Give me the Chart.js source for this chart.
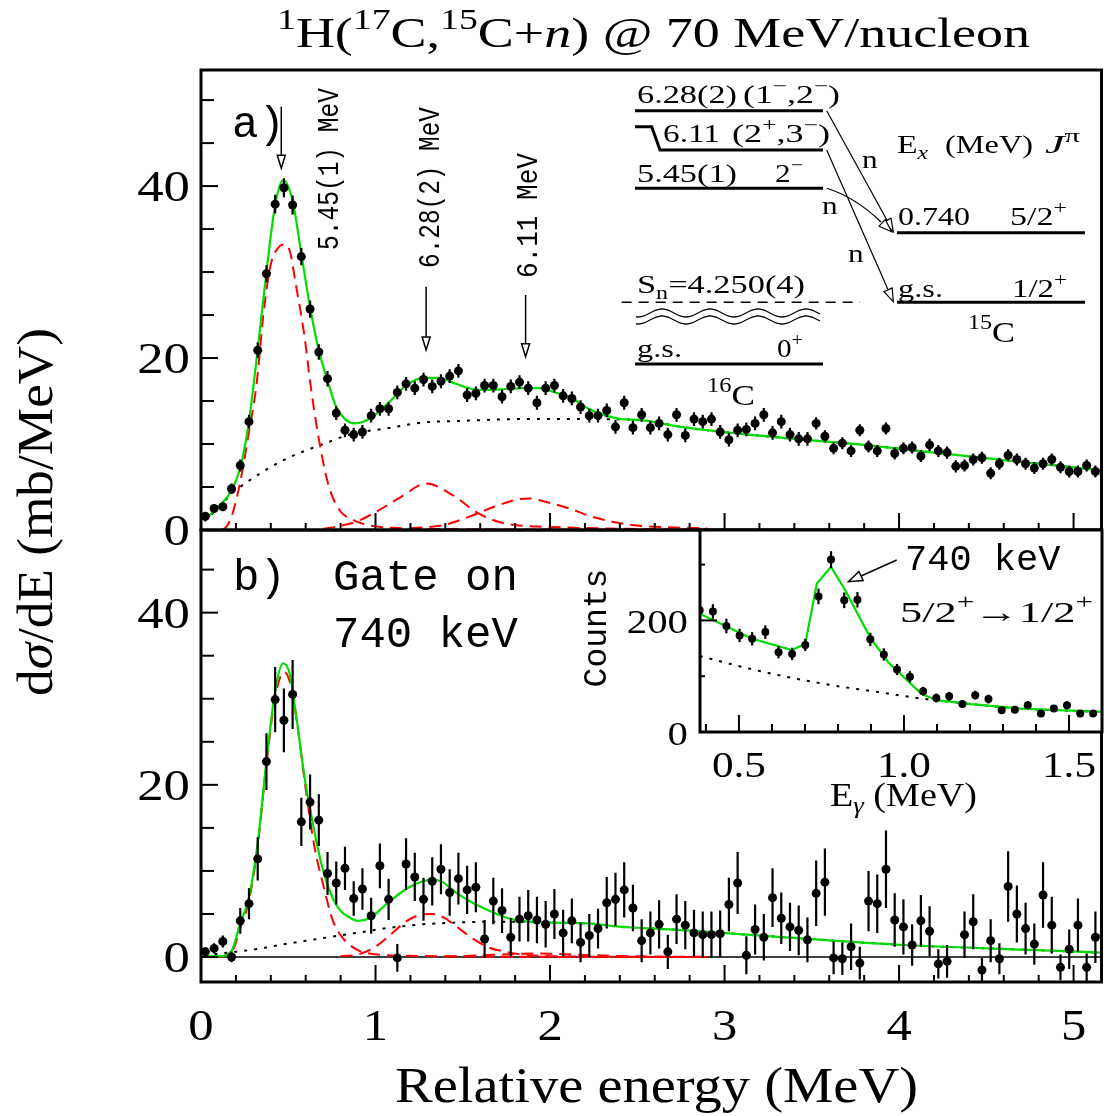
<!DOCTYPE html>
<html>
<head>
<meta charset="utf-8">
<script src="https://cdn.jsdelivr.net/npm/chart.js@4.4.1/dist/chart.umd.min.js"></script>
<style>
  body { margin: 0; background: #fff; }
  canvas { position: absolute; left: 0; top: 0; }
</style>
</head>
<body>
<canvas id="ca" width="1106" height="1116"></canvas>
<canvas id="cb" width="1106" height="1116"></canvas>
<canvas id="ci" width="1106" height="1116"></canvas>
<script>
// ---------- data ----------
// bin centres (MeV), shared by both panels
const binE = [
  0.025,0.075,0.125,0.175,0.225,0.275,0.325,0.375,0.425,0.475,
  0.525,0.575,0.625,0.675,0.725,0.775,0.825,0.875,0.925,0.975,
  1.025,1.075,1.125,1.175,1.225,1.275,1.325,1.375,1.425,1.475,
  1.525,1.575,1.625,1.675,1.725,1.775,1.825,1.875,1.925,1.975,
  2.025,2.075,2.125,2.175,2.225,2.275,2.325,2.375,2.425,2.475,
  2.525,2.575,2.625,2.675,2.725,2.775,2.825,2.875,2.925,2.975,
  3.025,3.075,3.125,3.175,3.225,3.275,3.325,3.375,3.425,3.475,
  3.525,3.575,3.625,3.675,3.725,3.775,3.825,3.875,3.925,3.975,
  4.025,4.075,4.125,4.175,4.225,4.275,4.325,4.375,4.425,4.475,
  4.525,4.575,4.625,4.675,4.725,4.775,4.825,4.875,4.925,4.975,
  5.025,5.075,5.125,5.175
];

// panel a) inclusive spectrum (mb/MeV)
const yA = [
  1.6, 2.5, 2.7, 4.8, 7.5, 12.6, 20.9, 29.8, 37.9, 39.8,
  37.8, 31.8, 25.7, 20.7, 17.6, 13.6, 11.6, 11.1, 11.4, 13.3,
  14.1, 14.1, 16.0, 17.0, 16.5, 17.5, 16.7, 17.3, 17.9, 18.5,
  15.7, 15.9, 16.8, 16.8, 15.5, 16.7, 17.2, 16.5, 14.8, 16.5,
  16.8, 15.6, 15.3, 14.3, 13.3, 13.3, 13.9, 12.0, 14.8, 11.9,
  13.4, 11.9, 12.4, 11.1, 13.4, 11.0, 12.9, 12.6, 12.9, 11.4,
  10.5, 11.6, 11.7, 12.4, 13.4, 11.3, 12.6, 11.1, 10.6, 10.6,
  12.4, 10.9, 9.5, 10.1, 9.2, 11.6, 9.7, 9.2, 11.8, 8.9,
  9.5, 9.6, 8.6, 9.9, 9.2, 9.0, 7.4, 7.5, 8.2, 8.4,
  6.6, 7.7, 8.7, 8.2, 7.7, 7.2, 7.7, 8.2, 7.3, 6.8,
  6.8, 7.5, 6.8, 6.5
];
const errA = [
  0.4,0.5,0.5,0.6,0.7,0.8,0.9,1.0,1.1,1.1,
  1.1,1.0,1.0,0.9,0.9,0.8,0.8,0.8,0.8,0.8,
  0.8,0.8,0.8,0.8,0.8,0.8,0.8,0.8,0.8,0.8,
  0.8,0.8,0.8,0.8,0.8,0.8,0.8,0.8,0.8,0.8,
  0.8,0.8,0.8,0.8,0.8,0.8,0.8,0.8,0.8,0.8,
  0.8,0.8,0.8,0.8,0.8,0.8,0.8,0.8,0.8,0.8,
  0.8,0.8,0.8,0.8,0.8,0.8,0.8,0.8,0.8,0.8,
  0.7,0.7,0.7,0.7,0.7,0.7,0.7,0.7,0.7,0.7,
  0.7,0.7,0.7,0.7,0.7,0.7,0.7,0.7,0.7,0.7,
  0.7,0.7,0.7,0.7,0.7,0.7,0.7,0.7,0.7,0.7,
  0.7,0.7,0.7,0.7
];

// panel a) fit curves
const fitA_E = [0.02,0.1,0.175,0.225,0.275,0.325,0.375,0.425,0.47,0.525,0.575,0.625,0.675,0.725,0.775,0.825,0.88,0.93,0.985,1.08,1.175,1.27,1.366,1.46,1.556,1.65,1.747,1.84,1.937,2.03,2.128,2.22,2.32,2.41,2.51,2.75,3.04,3.4,3.8,4.2,4.57,4.9,5.17];
const fitA_Y = [1.2,2.7,4.6,7.2,12.7,21.0,30.0,37.8,40.7,38.3,32.1,25.9,20.9,17.4,14.3,12.9,12.4,12.6,13.2,14.9,16.8,17.7,17.7,17.0,16.4,16.3,16.4,16.5,16.5,16.0,15.3,14.1,13.3,12.9,12.8,12.0,11.3,10.6,9.9,9.0,8.2,7.5,6.9];
const bgA_E = [0.02,0.1,0.175,0.28,0.47,0.7,0.87,1.06,1.27,1.5,1.84,2.22,2.51,2.75,3.04,3.4,3.8,4.2,4.57,4.9,5.17];
const bgA_Y = [1.0,2.6,4.2,5.8,8.1,10.0,11.2,11.8,12.5,12.7,12.9,12.9,12.8,12.0,11.3,10.6,9.9,9.0,8.2,7.5,6.9];
const bw1A_E = [0.12,0.146,0.175,0.223,0.27,0.318,0.36,0.40,0.442,0.476,0.508,0.543,0.594,0.627,0.67,0.728,0.794,0.87,0.947,1.1,1.5,2.0,2.9];
const bw1A_Y = [0.0,0.4,1.55,5.4,10.8,16.9,25.5,30.9,32.8,33.2,32.5,28.6,22.4,17.0,11.2,5.4,2.3,1.2,0.6,0.25,0.1,0.05,0.02];
const bw2A_E = [0.7,0.794,0.89,1.004,1.147,1.29,1.442,1.575,1.69,1.80,2.07,2.4,2.9];
const bw2A_Y = [0.15,0.46,0.97,2.12,3.86,5.41,4.06,2.12,1.04,0.58,0.31,0.15,0.05];
const bw3A_E = [1.2,1.394,1.537,1.69,1.823,1.88,1.975,2.109,2.24,2.356,2.527,2.68,2.9];
const bw3A_Y = [0.2,0.58,1.55,2.78,3.6,3.67,3.28,2.51,1.55,0.97,0.46,0.31,0.2];

// panel b) gated on 740 keV
const yB = [
  0.6, 1.0, 1.8, 0.0, 4.2, 6.2, 11.4, 22.7, 29.9, 27.5,
  30.5, 15.7, 18.0, 15.9, 9.7, 8.6, 10.3, 6.8, 7.9, 4.8,
  10.6, 6.7, -0.1, 10.8, 9.3, 6.7, 8.8, 10.2, 7.5, 9.1,
  7.8, 8.1, 2.1, 6.5, 5.4, 2.3, 4.4, 4.8, 4.3, 3.8,
  5.0, 2.8, 4.2, 1.7, 2.5, 3.3, 6.3, 6.7, 7.8, 5.7,
  1.9, 2.8, 3.8, 0.6, 4.4, 3.7, 2.8, 2.6, 2.6, 2.7,
  6.1, 8.6, 0.2, 3.2, 2.3, 6.9, 4.5, 3.5, 3.1, 2.0,
  7.4, 8.7, -0.1, -0.2, 1.2, -0.7, 6.5, 6.2, 10.2, 4.3,
  3.5, 1.4, 4.2, 3.0, -0.8, -0.5, null, 2.6, 4.1, -1.5,
  1.9, -0.2, 8.2, 5.0, 3.3, 1.5, 7.2, 3.7, -1.2, 0.9,
  3.7, -1.2, 2.3, 2.6
];
const errB = [
  0.5,0.6,0.7,0.6,1.5,1.8,2.5,3.3,3.8,3.7,
  4.0,2.8,3.2,3.0,2.5,2.5,2.5,2.0,2.4,2.1,
  2.6,2.4,1.6,3.0,2.8,2.5,2.8,2.9,2.7,3.0,
  2.8,2.9,2.2,2.7,2.6,2.2,2.6,3.0,2.7,2.7,
  2.9,2.7,2.6,2.3,2.5,2.3,3.0,3.1,3.2,2.7,
  2.5,2.5,2.8,2.0,2.9,2.8,2.7,2.7,2.7,2.7,
  3.1,3.6,2.2,2.9,2.7,3.4,3.0,2.8,2.9,2.6,
  3.8,3.9,1.9,1.9,2.7,1.9,3.5,3.4,4.5,3.1,
  3.2,2.4,3.0,2.9,1.7,1.9,null,2.7,3.2,1.4,
  2.5,1.8,4.1,3.3,3.0,2.4,3.8,3.3,1.5,2.3,
  3.1,1.6,3.0,3.0
];
const fitB_E = [0.023,0.108,0.175,0.223,0.274,0.324,0.375,0.425,0.47,0.508,0.547,0.594,0.642,0.69,0.737,0.794,0.851,0.899,0.966,1.06,1.175,1.27,1.327,1.385,1.46,1.556,1.65,1.747,1.84,2.03,2.22,2.41,2.5,2.78,3.27,4.03,4.79,5.17];
const fitB_Y = [0.1,0.1,0.7,3.8,6.9,13.1,22.7,30.9,34.1,32.9,27.8,20.8,15.4,10.8,7.7,5.5,4.6,4.2,4.5,6.1,7.9,8.8,9.0,8.7,7.5,6.3,5.4,4.6,4.2,4.0,3.9,3.5,3.4,3.1,2.4,1.4,0.8,0.5];
const bgB_E = [0.02,0.31,0.51,0.70,0.89,1.08,1.27,1.46,1.65,1.84,2.03,2.22,2.41,2.5,2.78,3.27,4.03,4.79,5.17];
const bgB_Y = [0.2,0.9,1.6,2.2,2.8,3.4,3.8,4.0,4.1,4.1,4.0,3.9,3.5,3.4,3.1,2.4,1.4,0.8,0.5];
const bw1B_E = [0.09,0.128,0.185,0.223,0.274,0.324,0.375,0.425,0.476,0.518,0.556,0.604,0.651,0.699,0.756,0.813,0.89,0.966,1.2,1.6,2.9];
const bw1B_Y = [0.0,0.12,0.9,3.2,6.5,12.7,22.4,30.2,33.1,31.3,26.3,18.9,12.7,8.5,4.2,2.2,0.9,0.4,0.15,0.05,0.0];
const bw2B_E = [0.8,0.9,1.0,1.08,1.18,1.27,1.33,1.39,1.46,1.56,1.65,1.75,1.84,2.0,2.5,2.9];
const bw2B_Y = [0.1,0.3,1.2,2.5,4.2,4.95,5.0,4.6,3.6,2.1,1.1,0.6,0.3,0.1,0.02,0.0];
const bw3B_E = [1.4,1.6,1.8,1.9,2.0,2.2,2.4,2.7,2.9];
const bw3B_Y = [0.05,0.2,0.35,0.4,0.38,0.25,0.12,0.04,0.02];

// inset: gamma spectrum
const gamE = [0.381,0.421,0.462,0.502,0.540,0.580,0.620,0.661,0.701,0.741,0.779,0.819,0.859,0.898,0.939,0.979,1.018,1.058,1.098,1.137,1.177,1.216,1.256,1.296,1.336,1.375,1.415,1.454,1.494,1.534,1.573];
const gamN = [218,216,190,173,167,179,143,140,156,243,309,236,237,166,139,112,99,73,61,64,50,66,59,39,40,48,33,42,48,33,33];
const gamErr = [12,13,13,12,12,12,11,11,11,14,15,14,14,12,11,10,10,8,8,8,7,8,8,6,6,7,6,6,7,6,6];
const gamFit_E = [0.381,0.54,0.661,0.701,0.736,0.779,0.822,0.897,0.952,1.052,1.098,1.203,1.354,1.603];
const gamFit_N = [212,167,147,158,266,296,254,170,125,69,57,50,42,36];
const gamBg_E = [0.381,0.55,0.75,0.952,1.05,1.098,1.203,1.354,1.603];
const gamBg_N = [136,111,87,69,60,57,50,42,36];

// tick labels
const xTickLabels = [0, 1, 2, 3, 4, 5];
const yTickLabels = [0, 20, 40];
const insetXLabels = [0.5, 1.0, 1.5];
const insetYLabels = [0, 200];

// peak markers in panel a
const peakE = [0.46, 1.29, 1.86];
const peakText = ['5.45(1) MeV', '6.28(2) MeV', '6.11 MeV'];

// ---------- helpers ----------
const SERIF = '"Liberation Serif", "Times New Roman", serif';
const MONO = '"Liberation Mono", "Courier New", monospace';
const GREEN = '#00dd00';
const RED = '#ff0000';

function pairs(xs, ys) { return xs.map((x, i) => ({ x: x, y: ys[i] })); }

function range(from, to, step, skip) {
  const out = [];
  for (let i = 0; from + i * step <= to + 1e-9; i++) {
    const v = +(from + i * step).toFixed(4);
    if (!skip || !skip.includes(v)) out.push(v);
  }
  return out;
}

// tiny markup: ^{sup} _{sub} ~{italic}
function parse(str) {
  const segs = [];
  const re = /([\^_~])\{([^}]*)\}|([^\^_~]+)/g;
  let m;
  while ((m = re.exec(str))) {
    if (m[3]) { segs.push({ t: m[3] }); continue; }
    let t = m[2], it = m[1] === '~';
    if (t[0] === '~') { it = true; t = t.slice(1); }
    segs.push({ t: t, sup: m[1] === '^', sub: m[1] === '_', it: it });
  }
  return segs;
}

function rich(ctx, str, x, y, o) {
  const size = o.size, fam = o.family || SERIF;
  const parts = parse(str).map(s => {
    const sz = (s.sup || s.sub) ? size * 0.7 : size;
    const font = (s.it ? 'italic ' : '') + sz + 'px ' + fam;
    ctx.font = font;
    return { t: s.t, font: font, w: ctx.measureText(s.t).width,
             dy: s.sup ? -size * 0.42 : s.sub ? size * 0.22 : 0 };
  });
  const total = parts.reduce((a, p) => a + p.w, 0);
  const sx = o.width ? o.width / total : (o.sx || 1);
  ctx.save();
  ctx.translate(x, y);
  if (o.rot) ctx.rotate(o.rot);
  ctx.scale(sx, 1);
  let cx = o.align === 'center' ? -total / 2 : o.align === 'right' ? -total : 0;
  ctx.fillStyle = '#000';
  ctx.textAlign = 'left';
  ctx.textBaseline = 'alphabetic';
  parts.forEach(p => { ctx.font = p.font; ctx.fillText(p.t, cx, p.dy); cx += p.w; });
  ctx.restore();
}

function line(ctx, x1, y1, x2, y2) {
  ctx.beginPath(); ctx.moveTo(x1, y1); ctx.lineTo(x2, y2); ctx.stroke();
}

// open triangular arrow head at (x2,y2), coming from (x1,y1)
function head(ctx, x1, y1, x2, y2, len, half) {
  const a = Math.atan2(y2 - y1, x2 - x1);
  const bx = x2 - len * Math.cos(a), by = y2 - len * Math.sin(a);
  const nx = -Math.sin(a) * half, ny = Math.cos(a) * half;
  ctx.beginPath();
  ctx.moveTo(x2, y2); ctx.lineTo(bx + nx, by + ny); ctx.lineTo(bx - nx, by - ny); ctx.closePath();
  ctx.fillStyle = '#fff'; ctx.fill(); ctx.stroke();
}
function arrow(ctx, x1, y1, x2, y2, len, half) {
  const a = Math.atan2(y2 - y1, x2 - x1);
  line(ctx, x1, y1, x2 - len * Math.cos(a), y2 - len * Math.sin(a));
  head(ctx, x1, y1, x2, y2, len, half);
}

// ---------- plugins ----------
const errorBars = {
  id: 'errorBars',
  afterDatasetsDraw(chart) {
    const { ctx, chartArea: a, scales: { x, y } } = chart;
    ctx.save();
    ctx.beginPath(); ctx.rect(a.left, a.top, a.right - a.left, a.bottom - a.top); ctx.clip();
    ctx.strokeStyle = '#000';
    chart.data.datasets.forEach(ds => {
      if (!ds.errors) return;
      ctx.lineWidth = ds.errWidth || 2.2;
      ds.data.forEach((p, i) => {
        const e = ds.errors[i];
        if (p.y == null || e == null) return;
        const px = x.getPixelForValue(p.x);
        line(ctx, px, y.getPixelForValue(p.y - e), px, y.getPixelForValue(p.y + e));
      });
    });
    ctx.restore();
  }
};

function makeFrame(spec) {
  return {
    id: 'frame',
    beforeDraw(chart) {
      if (!spec.fill) return;
      const { ctx, chartArea: a } = chart;
      ctx.save(); ctx.fillStyle = '#fff';
      ctx.fillRect(a.left, a.top, a.right - a.left, a.bottom - a.top);
      ctx.restore();
    },
    beforeDatasetsDraw(chart) {
      if (spec.zeroLine === undefined) return;
      const { ctx, chartArea: a, scales: { y } } = chart;
      ctx.save(); ctx.strokeStyle = '#000'; ctx.lineWidth = 1.6;
      const py = y.getPixelForValue(spec.zeroLine);
      line(ctx, a.left, py, a.right, py);
      ctx.restore();
    },
    afterDraw(chart) {
      const { ctx, chartArea: a, scales: { x, y } } = chart;
      ctx.save();
      ctx.strokeStyle = '#000';
      ctx.lineWidth = 2;
      spec.xTicks.forEach(t => t.vals.forEach(v => {
        const px = x.getPixelForValue(v);
        line(ctx, px, a.bottom, px, a.bottom - t.len);
      }));
      spec.yTicks.forEach(t => t.vals.forEach(v => {
        const py = y.getPixelForValue(v);
        line(ctx, a.left, py, a.left + t.len, py);
      }));
      ctx.lineWidth = 3;
      ctx.strokeRect(a.left, a.top, a.right - a.left, a.bottom - a.top);
      ctx.restore();
    }
  };
}

function dots(data, errs, r) {
  return { data: data, errors: errs, showLine: false, pointRadius: r, pointHoverRadius: r,
           pointBackgroundColor: '#000', pointBorderWidth: 0 };
}
function curve(data, color, dash, w, smooth) {
  return { data: data, showLine: true, borderColor: color, borderWidth: w, borderDash: dash,
           pointRadius: 0, pointHoverRadius: 0, fill: false,
           cubicInterpolationMode: smooth ? 'monotone' : 'default', tension: 0 };
}

function baseOptions(pad, xmin, xmax, ymin, ymax) {
  return {
    responsive: false, animation: false, devicePixelRatio: 1,
    layout: { padding: pad },
    events: [],
    scales: {
      x: { type: 'linear', min: xmin, max: xmax, display: false },
      y: { type: 'linear', min: ymin, max: ymax, display: false }
    },
    plugins: { legend: { display: false }, tooltip: { enabled: false } }
  };
}

// ---------- level scheme in panel a ----------
function scheme(ctx) {
  ctx.save();
  ctx.strokeStyle = '#000';
  ctx.lineWidth = 3;
  line(ctx, 635, 110.7, 823, 110.7);
  ctx.beginPath(); ctx.moveTo(635, 126.7); ctx.lineTo(651.7, 126.7); ctx.lineTo(660, 150); ctx.lineTo(823, 150); ctx.stroke();
  line(ctx, 635, 188.3, 823, 188.3);
  line(ctx, 635, 364, 823, 364);
  line(ctx, 897, 232.7, 1085, 232.7);
  line(ctx, 897, 302.3, 1085, 302.3);

  ctx.lineWidth = 1.5;
  ctx.setLineDash([10, 7]);
  line(ctx, 621.7, 302.3, 860, 302.3);
  ctx.setLineDash([]);

  // broken-axis wave
  ctx.lineWidth = 1.3;
  [313, 320].forEach(c => {
    ctx.beginPath();
    for (let px = 636; px <= 820; px += 2) {
      const py = c - 4 * Math.cos((px - 662) / 48 * 2 * Math.PI);
      if (px === 636) ctx.moveTo(px, py); else ctx.lineTo(px, py);
    }
    ctx.stroke();
  });

  // decay arrows
  ctx.lineWidth = 1.2;
  arrow(ctx, 826.7, 110.7, 893.3, 231.7, 13, 4.5);
  arrow(ctx, 826.7, 150, 893.3, 301.7, 13, 4.5);
  ctx.beginPath(); ctx.moveTo(826.7, 188.3); ctx.quadraticCurveTo(855, 197, 881, 222); ctx.stroke();
  head(ctx, 866, 208, 891.7, 231.7, 13, 4.5);

  const S = 26;
  rich(ctx, '6.28(2)', 637, 103.3, { size: S, width: 100 });
  rich(ctx, '(1^{−},2^{−})', 743, 103.3, { size: S, width: 97 });
  rich(ctx, '6.11', 663, 141.7, { size: S, width: 57 });
  rich(ctx, '(2^{+},3^{−})', 732, 141.7, { size: S, width: 98 });
  rich(ctx, '5.45(1)', 637, 181.7, { size: S, width: 100 });
  rich(ctx, '2^{−}', 775, 181.7, { size: S, width: 28 });
  rich(ctx, 'E_{~x}', 897, 153, { size: S, width: 31 });
  rich(ctx, '(MeV)', 945, 153, { size: S, width: 88 });
  rich(ctx, '~{J}^{π}', 1045, 153, { size: S, width: 35 });
  rich(ctx, 'n', 862, 168, { size: S, sx: 1.2 });
  rich(ctx, 'n', 822, 214, { size: S, sx: 1.2 });
  rich(ctx, 'n', 848, 261.7, { size: S, sx: 1.2 });
  rich(ctx, '0.740', 898, 225, { size: S, width: 72 });
  rich(ctx, '5/2^{+}', 1010, 225, { size: S, width: 57 });
  rich(ctx, 'g.s.', 898, 296.7, { size: S, width: 45 });
  rich(ctx, '1/2^{+}', 1012, 296.7, { size: S, width: 55 });
  rich(ctx, '^{15}C', 968, 341.7, { size: 30, width: 47 });
  rich(ctx, 'S_{n}=4.250(4)', 637, 293.3, { size: S, width: 168 });
  rich(ctx, 'g.s.', 637, 356.7, { size: S, width: 45 });
  rich(ctx, '0^{+}', 777, 356.7, { size: S, width: 26 });
  rich(ctx, '^{16}C', 707, 405, { size: 30, width: 48 });
  ctx.restore();
}

// ---------- panel a ----------
const peakArrowY = [[106.7, 168.3], [286.7, 350], [295, 356.7]];
const peakLabelPos = [[338, 250, 162], [439, 268, 161], [537, 278, 125]];

const decorA = {
  id: 'decorA',
  afterDraw(chart) {
    const { ctx, scales: { x, y } } = chart;
    yTickLabels.forEach(v => rich(ctx, String(v), 190, y.getPixelForValue(v) + 15, { size: 44, align: 'right', sx: 1.2 }));
    rich(ctx, '^{1}H(^{17}C,^{15}C+~{n}) @ 70 MeV/nucleon', 277, 47, { size: 42, width: 753 });
    rich(ctx, 'd~{σ}/dE (mb/MeV)', 52, 512, { size: 50, width: 368, align: 'center', rot: -Math.PI / 2 });
    rich(ctx, 'a)', 232, 137, { size: 44, family: MONO });
    ctx.save();
    ctx.strokeStyle = '#000'; ctx.lineWidth = 1.5;
    peakE.forEach((e, i) => {
      const px = x.getPixelForValue(e);
      arrow(ctx, px, peakArrowY[i][0], px, peakArrowY[i][1], 13, 4);
      const p = peakLabelPos[i];
      rich(ctx, peakText[i], p[0], p[1], { size: 30, family: MONO, width: p[2], rot: -Math.PI / 2 });
    });
    ctx.restore();
    scheme(ctx);
  }
};

const xMajor = [0, 1, 2, 3, 4, 5];
const frameA = makeFrame({
  xTicks: [{ vals: xMajor, len: 17 }, { vals: range(0, 5.16, 0.2, xMajor), len: 7 }],
  yTicks: [{ vals: [0, 20, 40], len: 17 }, { vals: [5, 10, 15, 25, 30, 35, 45, 50], len: 13 }]
});

new Chart(document.getElementById('ca'), {
  type: 'scatter',
  data: { datasets: [
    dots(pairs(binE, yA), errA, 4.5),
    curve(pairs(fitA_E, fitA_Y), GREEN, [], 2.2, true),
    curve(pairs(bw1A_E, bw1A_Y), RED, [12, 7], 2, true),
    curve(pairs(bw2A_E, bw2A_Y), RED, [12, 7], 2, true),
    curve(pairs(bw3A_E, bw3A_Y), RED, [12, 7], 2, true),
    curve(pairs(bgA_E, bgA_Y), '#000', [3, 7], 2, true)
  ] },
  options: baseOptions({ left: 201, top: 70, right: 2, bottom: 586 }, 0, 5.16, 0, 53.5),
  plugins: [frameA, errorBars, decorA]
});

// ---------- panel b ----------
const decorB = {
  id: 'decorB',
  afterDraw(chart) {
    const { ctx, scales: { x, y } } = chart;
    yTickLabels.forEach(v => rich(ctx, String(v), 190, y.getPixelForValue(v) + 15, { size: 44, align: 'right', sx: 1.2 }));
    xTickLabels.forEach(v => rich(ctx, String(v), x.getPixelForValue(v), 1040, { size: 44, align: 'center', sx: 1.15 }));
    rich(ctx, 'Relative energy (MeV)', 395, 1102, { size: 50, width: 523 });
    rich(ctx, 'b)', 233, 590, { size: 44, family: MONO });
    rich(ctx, 'Gate on', 333, 590, { size: 44, family: MONO });
    rich(ctx, '740 keV', 333, 647, { size: 44, family: MONO });
  }
};
const frameB = makeFrame({
  zeroLine: 0,
  xTicks: [{ vals: xMajor, len: 17 }, { vals: range(0, 5.16, 0.2, xMajor), len: 7 }],
  yTicks: [{ vals: [0, 20, 40], len: 17 }, { vals: [5, 10, 15, 25, 30, 35, 45], len: 13 }]
});

new Chart(document.getElementById('cb'), {
  type: 'scatter',
  data: { datasets: [
    dots(pairs(binE, yB), errB, 4.5),
    curve(pairs(fitB_E, fitB_Y), GREEN, [], 2.2, true),
    curve(pairs(bw1B_E, bw1B_Y), RED, [12, 7], 2, true),
    curve(pairs(bw2B_E, bw2B_Y), RED, [12, 7], 2, true),
    curve(pairs(bw3B_E, bw3B_Y), RED, [12, 7], 2, true),
    curve(pairs(bgB_E, bgB_Y), '#000', [3, 7], 2, true)
  ] },
  options: baseOptions({ left: 201, top: 530, right: 2, bottom: 134 }, 0, 5.16, -2.9, 49.6),
  plugins: [frameB, errorBars, decorB]
});

// ---------- inset ----------
const decorI = {
  id: 'decorI',
  afterDraw(chart) {
    const { ctx, scales: { x, y } } = chart;
    insetXLabels.forEach(v => rich(ctx, v.toFixed(1), x.getPixelForValue(v), 777, { size: 36, align: 'center', sx: 1.2 }));
    insetYLabels.forEach(v => rich(ctx, String(v), 688, y.getPixelForValue(v) + 13, { size: 34, align: 'right', sx: 1.2 }));
    rich(ctx, 'Counts', 606, 628, { size: 33, family: MONO, align: 'center', rot: -Math.PI / 2 });
    rich(ctx, 'E_{~γ} (MeV)', 830, 806, { size: 34, width: 147 });
    rich(ctx, '740 keV', 905, 570, { size: 37, family: MONO });
    rich(ctx, '5/2^{+}→1/2^{+}', 900, 622, { size: 30, width: 193 });
    ctx.save();
    ctx.strokeStyle = '#000'; ctx.lineWidth = 1.5;
    arrow(ctx, 896.7, 560, 848.3, 581.7, 14, 5);
    ctx.restore();
  }
};
const frameI = makeFrame({
  fill: true,
  xTicks: [{ vals: insetXLabels, len: 17 }, { vals: range(0.4, 1.6, 0.1, insetXLabels), len: 8 }],
  yTicks: [{ vals: [200], len: 17 }, { vals: [100, 300], len: 5 }]
});

new Chart(document.getElementById('ci'), {
  type: 'scatter',
  data: { datasets: [
    dots(pairs(gamE, gamN), gamErr, 4),
    curve(pairs(gamFit_E, gamFit_N), GREEN, [], 2.2, false),
    curve(pairs(gamBg_E, gamBg_N), '#000', [3, 7], 2, true)
  ] },
  options: baseOptions({ left: 700, top: 530, right: 2, bottom: 384 }, 0.382, 1.6, 0, 362),
  plugins: [frameI, errorBars, decorI]
});
</script>
</body>
</html>
